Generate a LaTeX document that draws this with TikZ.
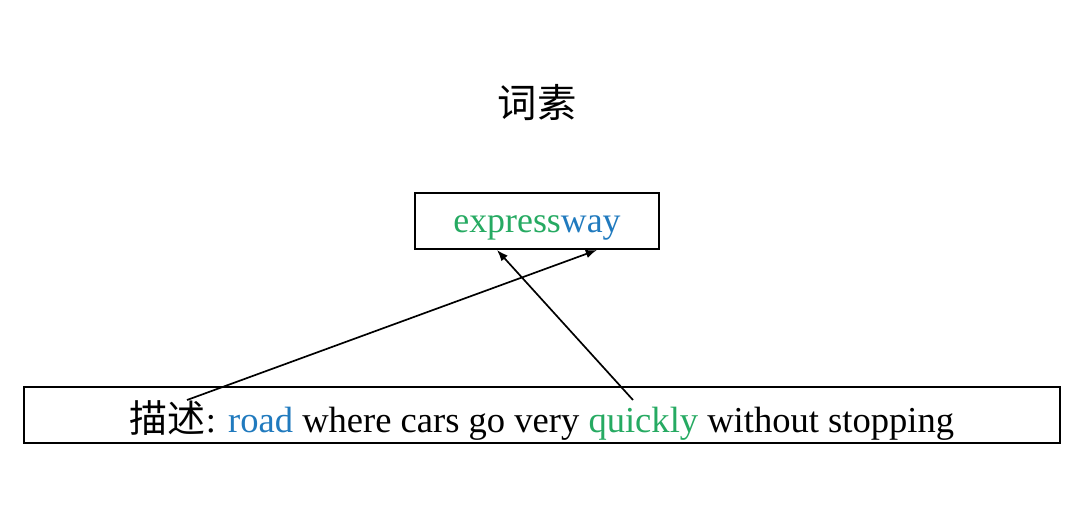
\documentclass[tikz,border=0pt]{standalone}
\usepackage{fontspec}
\setmainfont{Liberation Serif}
\newfontfamily\cjk{Noto Sans CJK SC}
\usepackage{xcolor}
\usetikzlibrary{positioning, arrows.meta}

\definecolor{wordgreen}{RGB}{38,170,98}
\definecolor{wordblue}{RGB}{32,122,190}

\begin{document}
\begin{tikzpicture}[x=0.025cm, y=-0.025cm,
        box/.style={rectangle, draw, line width=1.1pt, minimum height=1.4cm, inner sep=0pt, text depth=0pt},
        link/.style={-{Latex[length=8pt, width=6pt]}, line width=1.2pt},
    ]
    \useasboundingbox (0,0) rectangle (1080,526);

    % Title
    \node[font=\cjk\fontsize{28}{32}\selectfont] (title) at (537,103) {词素};

    % Word and its description
    \node[box, minimum width=6.1cm, text height=0.55cm, font=\fontsize{25.5}{28}\selectfont] (word) at (537,221)
        {\textcolor{wordgreen}{express}\textcolor{wordblue}{way}};
    \node[box, minimum width=25.9cm, text height=0.85cm, font=\fontsize{26}{28}\selectfont] (desc) at (542,415)
        {{\cjk\fontsize{27}{28}\selectfont 描述}: \textcolor{wordblue}{road} where cars go very \textcolor{wordgreen}{quickly} without stopping};

    % Link ends
    \coordinate (fromroad) at (187,400);
    \coordinate (fromquick) at (633,400);
    \coordinate (toway) at (597,250);
    \coordinate (toexpress) at (497,250);

    % Links
    \draw[link] (fromroad) -- (toway);
    \draw[link] (fromquick) -- (toexpress);
\end{tikzpicture}
\end{document}
